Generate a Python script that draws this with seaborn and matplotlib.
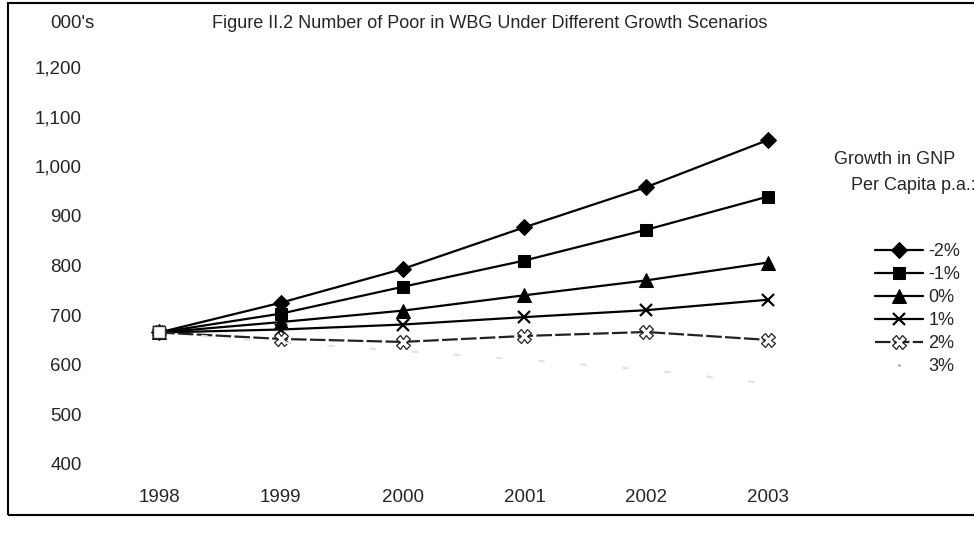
import pandas as pd
import seaborn as sns
from matplotlib import pyplot as plt
from matplotlib.patches import Rectangle
from matplotlib.ticker import FuncFormatter

# === DATA (thousands of poor)
years = [1998, 1999, 2000, 2001, 2002, 2003]
scenarios = ['-2%', '-1%', '0%', '1%', '2%', '3%']
poor_m2 = [665, 725, 793, 877, 958, 1053]
poor_m1 = [665, 703, 757, 810, 872, 939]
poor_0 = [665, 686, 709, 740, 770, 806]
poor_1 = [665, 671, 681, 696, 710, 731]
poor_2 = [665, 652, 646, 658, 666, 650]
poor_3 = [665, 645, 628, 610, 590, 562]
y_ticks = [400, 500, 600, 700, 800, 900, 1000, 1100, 1200]

title = 'Figure II.2 Number of Poor in WBG Under Different Growth Scenarios'
unit_label = "000's"
legend_title = ['Growth in GNP', 'Per Capita p.a.:']

# Long-form table for seaborn
db = pd.DataFrame({
    'year': years * len(scenarios),
    'scenario': [s for s in scenarios for _ in years],
    'poor': poor_m2 + poor_m1 + poor_0 + poor_1 + poor_2 + poor_3,
})

# Style for each scenario line
styles = {
    '-2%': dict(marker='D', markersize=8.5, color='black', linestyle='-',
                markerfacecolor='black', markeredgecolor='black'),
    '-1%': dict(marker='s', markersize=8, color='black', linestyle='-',
                markerfacecolor='black', markeredgecolor='black'),
    '0%': dict(marker='^', markersize=10, color='black', linestyle='-',
               markerfacecolor='black', markeredgecolor='black'),
    '1%': dict(marker='x', markersize=9, color='black', linestyle='-',
               markeredgewidth=1.6, markeredgecolor='black'),
    '2%': dict(marker='X', markersize=10, color='#222222', linestyle=(0, (7, 1.5)),
               markerfacecolor='white', markeredgecolor='#222222',
               markeredgewidth=0.9),
    '3%': dict(marker='s', markersize=9, color='#e4e4e4', linestyle=(0, (3, 16)),
               markerfacecolor='white', markeredgecolor='#333333',
               markeredgewidth=1.0, markevery=[0]),
}

# === PLOT
sns.set_style('white')
plt.rcParams['font.family'] = ['Liberation Sans', 'DejaVu Sans']

fig = plt.figure(figsize=(9.74, 5.4), dpi=100)
ax = fig.add_axes([140 / 974, 76 / 540, 650 / 974, 397 / 540])

for name in scenarios:
    sns.lineplot(x='year', y='poor',
                 data=db[db['scenario'] == name],
                 label=name,
                 linewidth=1.6,
                 ax=ax,
                 **styles[name])

ax.set_xlim(1997.844, 2003.18)
ax.set_ylim(400, 1200)
ax.set_xticks(years)
ax.set_yticks(y_ticks)
ax.yaxis.set_major_formatter(FuncFormatter(lambda v, p: '{:,.0f}'.format(v)))
ax.tick_params(axis='both', length=0, labelsize=13.5)
ax.tick_params(axis='y', pad=42)
ax.tick_params(axis='x', pad=18)
ax.set_xlabel('')
ax.set_ylabel('')
for side in ax.spines.values():
    side.set_visible(False)

# Legend on the right
leg = ax.legend(loc='center left', bbox_to_anchor=(875 / 974, 1 - 309 / 540),
                bbox_transform=fig.transFigure, frameon=False, fontsize=13,
                handlelength=2.65, handletextpad=0.3, labelspacing=0.33,
                borderpad=0, borderaxespad=0)
last = leg.legend_handles[-1]
last.set_linestyle('none')
last.set_marker('.')
last.set_markersize(2)
last.set_markerfacecolor('#aaaaaa')
last.set_markeredgecolor('#aaaaaa')

fig.text(895 / 974, 1 - 160 / 540, legend_title[0], ha='center', va='center',
         fontsize=13)
fig.text(913 / 974, 1 - 185 / 540, legend_title[1], ha='center', va='center',
         fontsize=13)

# Header texts
fig.text(72 / 974, 1 - 23 / 540, unit_label, ha='center', va='center',
         fontsize=13.5)
fig.text(490 / 974, 1 - 23 / 540, title, ha='center', va='center',
         fontsize=13, family=['Liberation Sans Narrow', 'Liberation Sans'])

# Frame round the figure
fig.patches.append(Rectangle((8 / 974, 1 - 515 / 540), 1.0, 512 / 540,
                             transform=fig.transFigure, fill=False,
                             edgecolor='black', linewidth=1.5))

plt.savefig('out.png', dpi=100)
